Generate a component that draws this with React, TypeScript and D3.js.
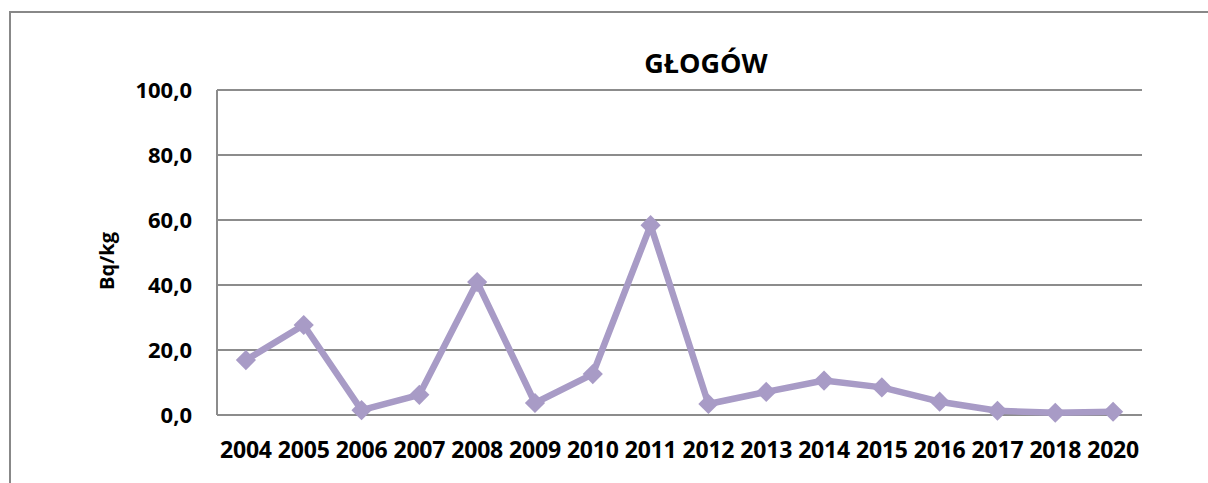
import { useEffect, useRef } from 'react'
import * as d3 from 'd3'

const years = ['2004', '2005', '2006', '2007', '2008', '2009', '2010', '2011', '2012', '2013', '2014', '2015', '2016', '2017', '2018', '2020']
const values = [16.9, 27.7, 1.5, 6.2, 40.9, 3.7, 12.6, 58.4, 3.4, 7.1, 10.6, 8.5, 4.1, 1.3, 0.7, 1.0]
const yTicks = [0, 20, 40, 60, 80, 100]

const W = 1208
const H = 483
const FONT = '"Open Sans", Lato, sans-serif'

export default function App() {
  const svgRef = useRef<SVGSVGElement>(null)

  useEffect(() => {
    if (!svgRef.current) return
    const svg = d3.select(svgRef.current)
    svg.selectAll('*').remove()

    const left = 217, right = 1142, top = 90, bottom = 415

    // outer chart frame (runs off right and bottom)
    svg.append('rect')
      .attr('x', 10).attr('y', 12)
      .attr('width', 1240).attr('height', 520)
      .attr('fill', 'white')
      .attr('stroke', '#888').attr('stroke-width', 2)

    const x = d3.scaleBand().domain(years).range([left, right])
    const y = d3.scaleLinear().domain([0, 100]).range([bottom, top])

    // gridlines
    svg.append('g').selectAll('line')
      .data(yTicks)
      .enter().append('line')
      .attr('x1', left).attr('x2', right)
      .attr('y1', d => y(d)).attr('y2', d => y(d))
      .attr('stroke', '#8c8c8c').attr('stroke-width', 2)

    // y axis line
    svg.append('line')
      .attr('x1', left).attr('x2', left)
      .attr('y1', top).attr('y2', bottom)
      .attr('stroke', '#8c8c8c').attr('stroke-width', 2)

    // y tick labels
    svg.append('g').selectAll('text')
      .data(yTicks)
      .enter().append('text')
      .attr('x', 192)
      .attr('y', d => y(d) + 8)
      .attr('text-anchor', 'end')
      .style('font-family', FONT)
      .style('font-weight', 'bold')
      .style('font-size', '22px')
      .text(d => d3.format('.1f')(d).replace('.', ','))

    // x tick labels
    svg.append('g').selectAll('text')
      .data(years)
      .enter().append('text')
      .attr('x', d => (x(d) as number) + x.bandwidth() / 2)
      .attr('y', 458)
      .attr('text-anchor', 'middle')
      .style('font-family', FONT)
      .style('font-weight', 'bold')
      .style('font-size', '23px')
      .style('letter-spacing', '-0.2px')
      .text(d => d)

    // axis title
    svg.append('text')
      .attr('transform', 'translate(114,261) rotate(-90)')
      .attr('text-anchor', 'middle')
      .style('font-family', FONT)
      .style('font-weight', 'bold')
      .style('font-size', '20px')
      .text('Bq/kg')

    // chart title
    svg.append('text')
      .attr('x', 706).attr('y', 73)
      .attr('text-anchor', 'middle')
      .style('font-family', FONT)
      .style('font-weight', 'bold')
      .style('font-size', '27px')
      .text('GŁOGÓW')

    const pts = values.map((v, i) => [(x(years[i]) as number) + x.bandwidth() / 2, y(v)] as [number, number])

    svg.append('path')
      .attr('d', d3.line()(pts))
      .attr('fill', 'none')
      .attr('stroke', '#a89bc6')
      .attr('stroke-width', 6.5)
      .attr('stroke-linejoin', 'round')

    svg.append('g').selectAll('path')
      .data(pts)
      .enter().append('path')
      .attr('d', d3.symbol(d3.symbolDiamond2, 260)())
      .attr('transform', d => `translate(${d[0]},${d[1]})`)
      .attr('fill', '#a89bc6')
  }, [])

  return (
    <svg
      ref={svgRef}
      width={W}
      height={H}
      style={{ position: 'absolute', left: 0, top: 0 }}
    />
  )
}
